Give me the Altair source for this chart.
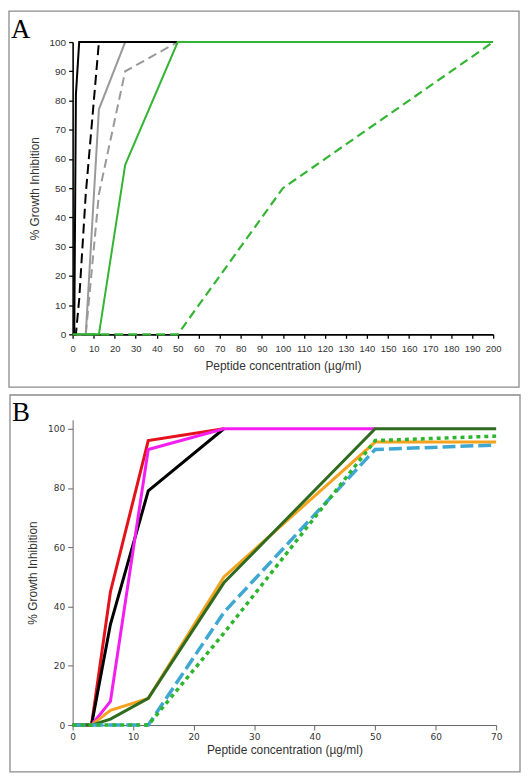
import altair as alt
import pandas as pd

# ---------------- Panel A data ----------------
A_X_TICKS = list(range(0, 201, 10))
A_Y_TICKS = list(range(0, 101, 10))

a_black_x = [0, 0.78, 1.56, 3.125, 6.25, 12.5, 25, 50]
a_black_y = [0, 0, 82, 100, 100, 100, 100, 100]
a_blackdash_x = [0, 1.56, 3.125, 6.25, 12.5, 25, 50]
a_blackdash_y = [0, 0, 12, 48, 100, 100, 100]
a_gray_x = [0, 3.125, 6.25, 12.5, 25, 50]
a_gray_y = [0, 0, 0, 77, 100, 100]
a_graydash_x = [0, 6.25, 12.5, 25, 50]
a_graydash_y = [0, 0, 48, 90, 100]
a_green_x = [0, 6.25, 12.5, 25, 50, 100, 200]
a_green_y = [0, 0, 0, 58, 100, 100, 100]
a_greendash_x = [0, 12.5, 25, 50, 100, 200]
a_greendash_y = [0, 0, 0, 0, 50, 100]

# ---------------- Panel B data ----------------
B_X_TICKS = list(range(0, 71, 10))
B_Y_TICKS = list(range(0, 101, 20))

b_red_x = [0, 3.125, 6.25, 12.5, 25]
b_red_y = [0, 0, 45, 96, 100]
b_black_x = [0, 3.125, 6.25, 12.5, 25]
b_black_y = [0, 0, 34, 79, 100]
b_magenta_x = [0, 3.125, 6.25, 12.5, 25, 50]
b_magenta_y = [0, 0, 8, 93, 100, 100]
b_orange_x = [0, 3.125, 6.25, 12.5, 25, 50, 70]
b_orange_y = [0, 0, 5, 9, 50, 95.5, 95.5]
b_dkgreen_x = [0, 3.125, 6.25, 12.5, 25, 50, 70]
b_dkgreen_y = [0, 0, 2, 9, 48, 100, 100]
b_blue_x = [0, 3.125, 6.25, 12.5, 25, 50, 70]
b_blue_y = [0, 0, 0, 0, 38, 93, 94.5]
b_dotgreen_x = [0, 3.125, 6.25, 12.5, 25, 50, 70]
b_dotgreen_y = [0, 0, 0, 0, 31, 96, 97.5]

TITLE_X = "Peptide concentration (\u00b5g/ml)"
TITLE_Y = "% Growth  Inhibition"


def line_layer(xs, ys, color, width, dash, xenc, yenc):
    df = pd.DataFrame({"x": xs, "y": ys})
    props = dict(color=color, strokeWidth=width, clip=False, strokeJoin="miter")
    if dash:
        props["strokeDash"] = dash
    return alt.Chart(df).mark_line(**props).encode(x=xenc, y=yenc)


def frame_layer(x1, x2, y1, y2):
    return alt.Chart(pd.DataFrame({"k": [0]})).mark_rect(
        fillOpacity=0, stroke="#8a8a8a", strokeWidth=1.3
    ).encode(x=alt.value(x1), x2=alt.value(x2), y=alt.value(y1), y2=alt.value(y2))


def letter_layer(letter, x, y):
    return alt.Chart(pd.DataFrame({"t": [letter]})).mark_text(
        font="Liberation Serif", fontSize=27, align="left", baseline="alphabetic", color="black"
    ).encode(x=alt.value(x), y=alt.value(y), text="t:N")


# ---------------- Panel A ----------------
AW, AH = 423, 294
ax_a_x = alt.X(
    "x:Q",
    scale=alt.Scale(domain=[0, 200], nice=False, zero=False),
    axis=alt.Axis(
        values=A_X_TICKS, title=TITLE_X, grid=False,
        domainColor="black", domainWidth=1.6, tickColor="black", tickWidth=1.3, tickSize=4,
        labelFont="Liberation Sans", labelFontSize=9.5, labelColor="#333", labelPadding=5,
        labelOverlap=False, labelFlush=False,
        titleFont="Liberation Sans", titleFontSize=12, titleFontWeight="normal",
        titleColor="#333", titlePadding=8,
    ),
)
ax_a_y = alt.Y(
    "y:Q",
    scale=alt.Scale(domain=[0, 100], nice=False),
    axis=alt.Axis(
        values=A_Y_TICKS, title=TITLE_Y, grid=False,
        domainColor="black", domainWidth=1.6, tickColor="black", tickWidth=1.3, tickSize=4,
        labelFont="Liberation Sans", labelFontSize=10, labelColor="#333", labelPadding=3,
        labelOverlap=False, labelFlush=False,
        titleFont="Liberation Sans", titleFontSize=12, titleFontWeight="normal",
        titleColor="#333", titlePadding=8,
    ),
)

GREEN = "#33b533"
GRAY = "#999999"
a_layers = [
    frame_layer(-64, AW + 26, -31, AH + 53),
    letter_layer("A", -62, -4),
    line_layer(a_greendash_x, a_greendash_y, GREEN, 2.2, [9, 5], ax_a_x, ax_a_y),
    line_layer(a_graydash_x, a_graydash_y, GRAY, 2, [9, 5], ax_a_x, ax_a_y),
    line_layer(a_gray_x, a_gray_y, GRAY, 2, None, ax_a_x, ax_a_y),
    line_layer(a_blackdash_x, a_blackdash_y, "black", 2, [10, 5], ax_a_x, ax_a_y),
    line_layer(a_black_x, a_black_y, "black", 2, None, ax_a_x, ax_a_y),
    line_layer(a_green_x, a_green_y, GREEN, 2, None, ax_a_x, ax_a_y),
]
panel_a = alt.layer(*a_layers).properties(width=AW, height=AH)

# ---------------- Panel B ----------------
BW, BH = 426, 307
ax_b_x = alt.X(
    "x:Q",
    scale=alt.Scale(domain=[0, 70], nice=False, zero=False),
    axis=alt.Axis(
        values=B_X_TICKS, title=TITLE_X, grid=False,
        domainColor="#666", domainWidth=1, tickColor="#666", tickWidth=1, tickSize=5,
        labelFont="DejaVu Sans", labelFontSize=9, labelColor="#333", labelPadding=3,
        labelOverlap=False, labelFlush=False,
        titleFont="Liberation Sans", titleFontSize=12, titleFontWeight="normal",
        titleColor="#333", titlePadding=3,
    ),
)
ax_b_y = alt.Y(
    "y:Q",
    scale=alt.Scale(domain=[0, 103], nice=False),
    axis=alt.Axis(
        values=B_Y_TICKS, title=TITLE_Y, grid=False,
        domainColor="#666", domainWidth=1, tickColor="#666", tickWidth=1, tickSize=5,
        labelFont="DejaVu Sans", labelFontSize=9, labelColor="#333", labelPadding=3,
        labelOverlap=False, labelFlush=False,
        titleFont="Liberation Sans", titleFontSize=12, titleFontWeight="normal",
        titleColor="#333", titlePadding=8,
    ),
)

b_layers = [
    frame_layer(-63, BW + 24, -25, BH + 47),
    letter_layer("B", -61, 1),
    line_layer(b_red_x, b_red_y, "#e3121b", 3, None, ax_b_x, ax_b_y),
    line_layer(b_black_x, b_black_y, "black", 3, None, ax_b_x, ax_b_y),
    line_layer(b_magenta_x, b_magenta_y, "#f21ff0", 3, None, ax_b_x, ax_b_y),
    line_layer(b_orange_x, b_orange_y, "#f5a21e", 3, None, ax_b_x, ax_b_y),
    line_layer(b_dkgreen_x, b_dkgreen_y, "#2f6b1f", 3, None, ax_b_x, ax_b_y),
    line_layer(b_blue_x, b_blue_y, "#3ea7d2", 3.5, [13, 5], ax_b_x, ax_b_y),
    line_layer(b_dotgreen_x, b_dotgreen_y, "#2db52d", 3.5, [4, 4], ax_b_x, ax_b_y),
]
panel_b = alt.layer(*b_layers).properties(width=BW, height=BH)

chart = (
    alt.vconcat(panel_a, panel_b, spacing=6)
    .properties(padding=0, background="white")
    .configure_view(strokeWidth=0)
)

chart.save("out.html", embed_options={"renderer": "svg", "actions": False})
